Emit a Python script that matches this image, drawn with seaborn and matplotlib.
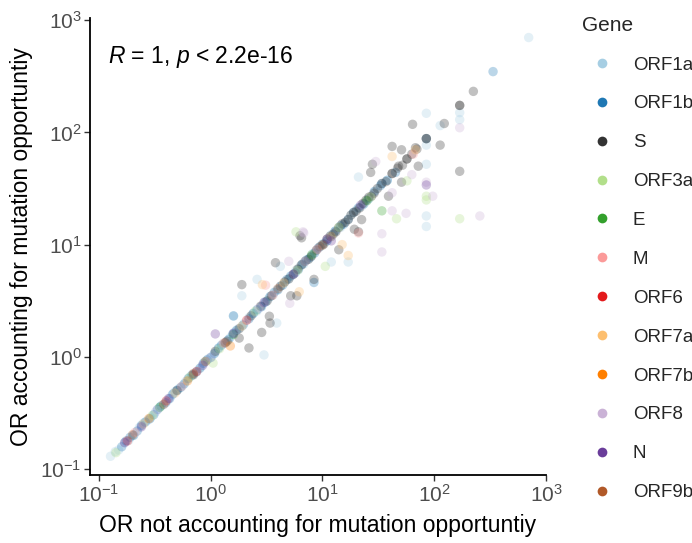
import matplotlib
matplotlib.use("Agg")
import matplotlib.pyplot as plt
import seaborn as sns
import pandas as pd
from matplotlib.lines import Line2D
from matplotlib.ticker import LogLocator, LogFormatterSciNotation, NullLocator

genes = ["ORF1a", "ORF1b", "S", "ORF3a", "E", "M", "ORF6", "ORF7a", "ORF7b", "ORF8", "N", "ORF9b"]
colors = ["#A6CEE3", "#1F78B4", "#333333", "#B2DF8A", "#33A02C", "#FB9A99",
          "#E31A1C", "#FDBF6F", "#FF7F00", "#CAB2D6", "#6A3D9A", "#B15928"]

orf1a_x = [0.127, 0.15, 0.17, 0.2, 0.23, 0.27, 0.32, 0.38, 0.45, 0.52, 0.6, 0.7, 0.82, 0.95, 1.1, 1.3,
           1.5, 1.75, 2.0, 2.4, 2.8, 3.3, 3.9, 4.6, 5.4, 6.3, 7.5, 9, 11, 13, 16, 20, 25, 30, 38, 700,
           0.14, 0.185, 0.25, 0.29, 0.35, 0.41, 0.48, 0.56, 0.65, 0.76, 0.88, 1.02, 1.2, 1.4, 1.62,
           1.88, 2.2, 2.6, 3.05, 3.6, 4.25, 5, 5.8, 6.8, 8.2, 10, 12, 14.5, 18, 22.5,
           85, 113, 169, 169, 85, 21, 85, 85, 85, 17, 12, 4.2, 2.6, 1.9, 1.6, 3.9, 3.0]
orf1a_y = [0.13, 0.148, 0.172, 0.198, 0.235, 0.27, 0.322, 0.375, 0.455, 0.52, 0.605, 0.7, 0.81, 0.96, 1.1, 1.32,
           1.49, 1.77, 2.0, 2.42, 2.78, 3.3, 3.95, 4.6, 5.35, 6.4, 7.4, 9.1, 10.8, 13.2, 15.8, 20.3, 24.6, 30.5, 37.5, 700,
           0.143, 0.18, 0.257, 0.286, 0.355, 0.405, 0.49, 0.552, 0.66, 0.75, 0.895, 1.0, 1.22, 1.38, 1.65,
           1.85, 2.24, 2.56, 3.1, 3.55, 4.3, 4.92, 5.9, 6.7, 8.35, 9.8, 12.3, 14.2, 18.4, 22,
           148, 115, 150, 130, 77, 40, 52, 18, 14.5, 7, 7, 6.4, 4.9, 3.5, 2.3, 2.0, 1.04]

orf1b_x = [0.16, 0.19, 0.22, 0.26, 0.31, 0.36, 0.43, 0.5, 0.58, 0.68, 0.8, 0.93, 1.08, 1.25, 1.45, 1.7,
           2.2, 2.6, 3.1, 3.7, 4.4, 5.2, 6.1, 7.2, 8.5, 10, 12, 14.5, 17, 21, 26, 33, 45,
           0.175, 0.205, 0.24, 0.285, 0.335, 0.395, 0.46, 0.54, 0.63, 0.74, 0.86, 1.0, 1.17, 1.35, 1.58,
           1.95, 2.4, 2.85, 3.4, 4.0, 4.8, 5.7, 6.6, 7.8, 9.2, 11, 13, 15.5, 19, 23.5, 29, 38,
           336, 85, 34, 8.4, 1.6]
orf1b_y = [0.158, 0.192, 0.218, 0.262, 0.305, 0.365, 0.425, 0.505, 0.575, 0.69, 0.79, 0.94, 1.07, 1.27, 1.43, 1.72,
           2.18, 2.63, 3.08, 3.75, 4.35, 5.25, 6.0, 7.3, 8.4, 10.1, 11.8, 14.7, 16.8, 21.3, 25.7, 33.5, 44,
           0.178, 0.2, 0.245, 0.28, 0.34, 0.39, 0.468, 0.535, 0.64, 0.73, 0.875, 0.985, 1.19, 1.33, 1.6,
           1.92, 2.44, 2.8, 3.45, 3.95, 4.88, 5.6, 6.7, 7.7, 9.35, 10.8, 13.2, 15.2, 19.4, 23, 29.6, 37.4,
           348, 88, 35, 4.6, 2.32]

s_x = [0.5, 0.9, 1.4, 2.3, 3.5, 4.2, 5, 6, 7, 8, 9.5, 11, 12.5, 14, 16, 18, 20, 23, 26, 29, 34, 42, 57, 85, 85, 169, 169, 224,
       0.7, 1.1, 1.8, 2.8, 3.2, 4.6, 5.5, 6.5, 7.5, 8.8, 10.3, 11.7, 13.2, 15, 17, 19, 21.5, 24.5, 27.5, 31, 37, 47, 52, 63, 70,
       64, 123, 113, 42, 51, 68, 28, 27, 48, 72, 169, 51, 39, 21, 14, 6.3, 6.5, 3.8, 1.9, 3.35, 3.4, 5.2, 5.9,
       8.4, 2.2, 2.86, 1.8, 19.3, 22.4, 42, 57]
s_y = [0.5, 0.91, 1.38, 2.32, 3.5, 4.25, 4.95, 6.05, 7.1, 7.9, 9.6, 11.2, 12.4, 14.2, 15.8, 18.3, 19.8, 23.3, 26.5, 28.7, 35, 43, 58, 88, 88, 174, 174, 232,
       0.69, 1.12, 1.78, 2.83, 3.15, 4.65, 5.45, 6.6, 7.4, 8.9, 10.1, 11.9, 13, 15.3, 16.7, 19.3, 21.2, 24.9, 27, 31.6, 36.4, 48, 51, 64, 71,
       118, 120, 77, 75, 70, 73, 52, 44, 50, 50, 45, 36, 27, 13, 9, 12, 11.5, 6.9, 4.4, 2.3, 2.0, 3.5, 3.5,
       4.9, 1.2, 1.65, 1.47, 13.7, 16.7, 43, 58]

orf3a_x = [0.142, 0.3, 0.65, 1.2, 2.5, 6, 14, 27, 5.8, 10.6, 1.05, 57, 85, 169, 46, 85]
orf3a_y = [0.14, 0.3, 0.66, 1.18, 2.55, 5.9, 14.3, 26.5, 13, 6.4, 0.88, 37, 25, 17, 17, 27]

e_x = [0.35, 1.6, 8, 25, 34]
e_y = [0.355, 1.58, 8.1, 24.6, 20]

m_x = [0.21, 0.55, 1.3, 3.6, 9, 65, 3.1, 21]
m_y = [0.212, 0.545, 1.32, 3.55, 9.1, 64, 4.35, 12.7]

orf6_x = [0.18, 0.4, 0.75, 2.1]
orf6_y = [0.178, 0.405, 0.74, 2.12]

orf7a_x = [0.25, 0.48, 0.9, 1.9, 4.5, 12, 68, 42, 2.9, 6.2, 15, 17]
orf7a_y = [0.252, 0.475, 0.91, 1.88, 4.55, 11.8, 70, 61, 4.4, 3.8, 10, 8]

orf7b_x = [0.28, 0.62, 1.5]
orf7b_y = [0.282, 0.61, 1.25]

orf8_x = [0.33, 1.0, 2.7, 7, 30, 63, 85, 97, 42, 42, 56, 256, 34, 34, 6.7, 6.8, 5, 5.1, 169]
orf8_y = [0.335, 0.99, 2.72, 7.1, 55, 42, 36, 27, 29, 20, 19, 18, 12.5, 8.6, 13, 12.7, 7.1, 3.0, 110]

n_x = [0.17, 0.24, 0.42, 0.85, 1.6, 3, 5.5, 11, 22, 12, 85, 1.1]
n_y = [0.172, 0.238, 0.425, 0.84, 1.62, 3.05, 5.45, 11.2, 22.5, 10.8, 34, 1.6]

orf9b_x = [0.2, 0.38, 0.7, 1.35, 4, 10]
orf9b_y = [0.202, 0.378, 0.71, 1.34, 4.05, 9.9]

series = {
    "ORF1a": (orf1a_x, orf1a_y), "ORF1b": (orf1b_x, orf1b_y), "S": (s_x, s_y),
    "ORF3a": (orf3a_x, orf3a_y), "E": (e_x, e_y), "M": (m_x, m_y), "ORF6": (orf6_x, orf6_y),
    "ORF7a": (orf7a_x, orf7a_y), "ORF7b": (orf7b_x, orf7b_y), "ORF8": (orf8_x, orf8_y),
    "N": (n_x, n_y), "ORF9b": (orf9b_x, orf9b_y),
}
rows = []
for g in genes:
    xs, ys = series[g]
    for a, b in zip(xs, ys):
        rows.append((g, a, b))
df = pd.DataFrame(rows, columns=["Gene", "raw", "adj"])

sns.set_style("white")
plt.rcParams["font.family"] = ["Liberation Sans", "DejaVu Sans"]
plt.rcParams["mathtext.fontset"] = "custom"
plt.rcParams["mathtext.rm"] = "Liberation Sans"
plt.rcParams["mathtext.it"] = "Liberation Sans:italic"

fig = plt.figure(figsize=(6.92, 5.43), dpi=100)
ax = fig.add_axes([0.130, 0.125, 0.659, 0.842])

sns.scatterplot(data=df, x="raw", y="adj", hue="Gene", hue_order=genes,
                palette=dict(zip(genes, colors)), alpha=0.3, s=46, linewidth=0,
                ax=ax, legend=False)

ax.set_xscale("log")
ax.set_yscale("log")
ax.set_xlim(10 ** -1.08, 10 ** 3.0)
ax.set_ylim(10 ** -1.054, 10 ** 3.02)
for axis in (ax.xaxis, ax.yaxis):
    axis.set_major_locator(LogLocator(base=10, numticks=10))
    axis.set_major_formatter(LogFormatterSciNotation())
    axis.set_minor_locator(NullLocator())

for sp in ["top", "right"]:
    ax.spines[sp].set_visible(False)
for sp in ["left", "bottom"]:
    ax.spines[sp].set_color("black")
    ax.spines[sp].set_linewidth(1.3)
ax.tick_params(axis="both", which="major", direction="out", length=4, width=1,
               color="#333333", labelcolor="#4D4D4D", labelsize=15, pad=2, bottom=True, left=True)

ax.set_xlabel("OR not accounting for mutation opportuntiy", fontsize=16.5, color="black", labelpad=6)
ax.set_ylabel("OR accounting for mutation opportuntiy", fontsize=16.5, color="black", labelpad=5)

ax.text(0.04, 0.915, r"$\it{R}$ = 1, $\it{p}$ < 2.2e-16", transform=ax.transAxes,
        fontsize=16.5, color="black", va="center", ha="left")

handles = [Line2D([], [], marker="o", linestyle="", markersize=7, markerfacecolor=c,
                  markeredgewidth=0, color=c) for c in colors]
leg = fig.legend(handles, genes, title="Gene", loc="upper left", bbox_to_anchor=(0.83, 0.985),
                 frameon=False, fontsize=13.5, title_fontsize=15, labelspacing=1.16,
                 handletextpad=0.59, handlelength=2.13, borderaxespad=0)
leg._legend_box.align = "left"

fig.savefig("out.png", dpi=100)
